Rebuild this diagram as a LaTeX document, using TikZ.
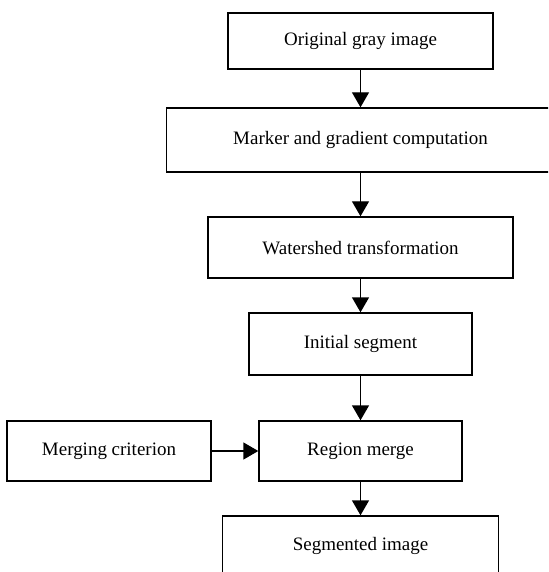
\documentclass[tikz,border=0pt]{standalone}
\usepackage{fontspec}
\setmainfont{Liberation Serif}
\usepackage{tikz}
\usetikzlibrary{arrows.meta}
\usetikzlibrary{positioning}

\begin{document}
\begin{tikzpicture}[
  stage/.style={draw, rectangle, line width=.8pt, minimum height=1.2cm, inner sep=0pt,
                font=\fontsize{10.8pt}{13pt}\selectfont},
  flow/.style={line width=.8pt, -{Triangle[length=3mm, width=3.4mm]}}
]
\useasboundingbox (0,0) rectangle (10.96,-11.44);
\clip (0,0) rectangle (10.96,-11.44);
% ---
\node[stage, minimum width=5.3cm, minimum height=1.12cm] (Orig) at (7.21,-.82) {Original gray image};
\node[stage, minimum width=7.76cm, minimum height=1.28cm] (Marker) at (7.21,-2.8) {Marker and gradient computation};
\node[stage, minimum width=6.1cm, minimum height=1.22cm] (Water) at (7.21,-4.95) {Watershed transformation};
\node[stage, minimum width=4.46cm, minimum height=1.24cm] (Init) at (7.21,-6.88) {Initial segment};
% ---
\node[stage, minimum width=4.06cm] (Merge) at (7.21,-9.02) {Region merge};
\node[stage, minimum width=4.08cm] (Crit) at (2.18,-9.02) {Merging criterion};
\node[stage, minimum width=5.52cm] (Seg) at (7.21,-10.92) {Segmented image};
% ---
\draw[flow] (Orig) -- (Marker);
\draw[flow] (Marker) -- (Water);
\draw[flow] (Water) -- (Init);
\draw[flow] (Init) -- (Merge);
\draw[flow] (Crit) -- (Merge);
\draw[flow] (Merge) -- (Seg);

\end{tikzpicture}
\end{document}
